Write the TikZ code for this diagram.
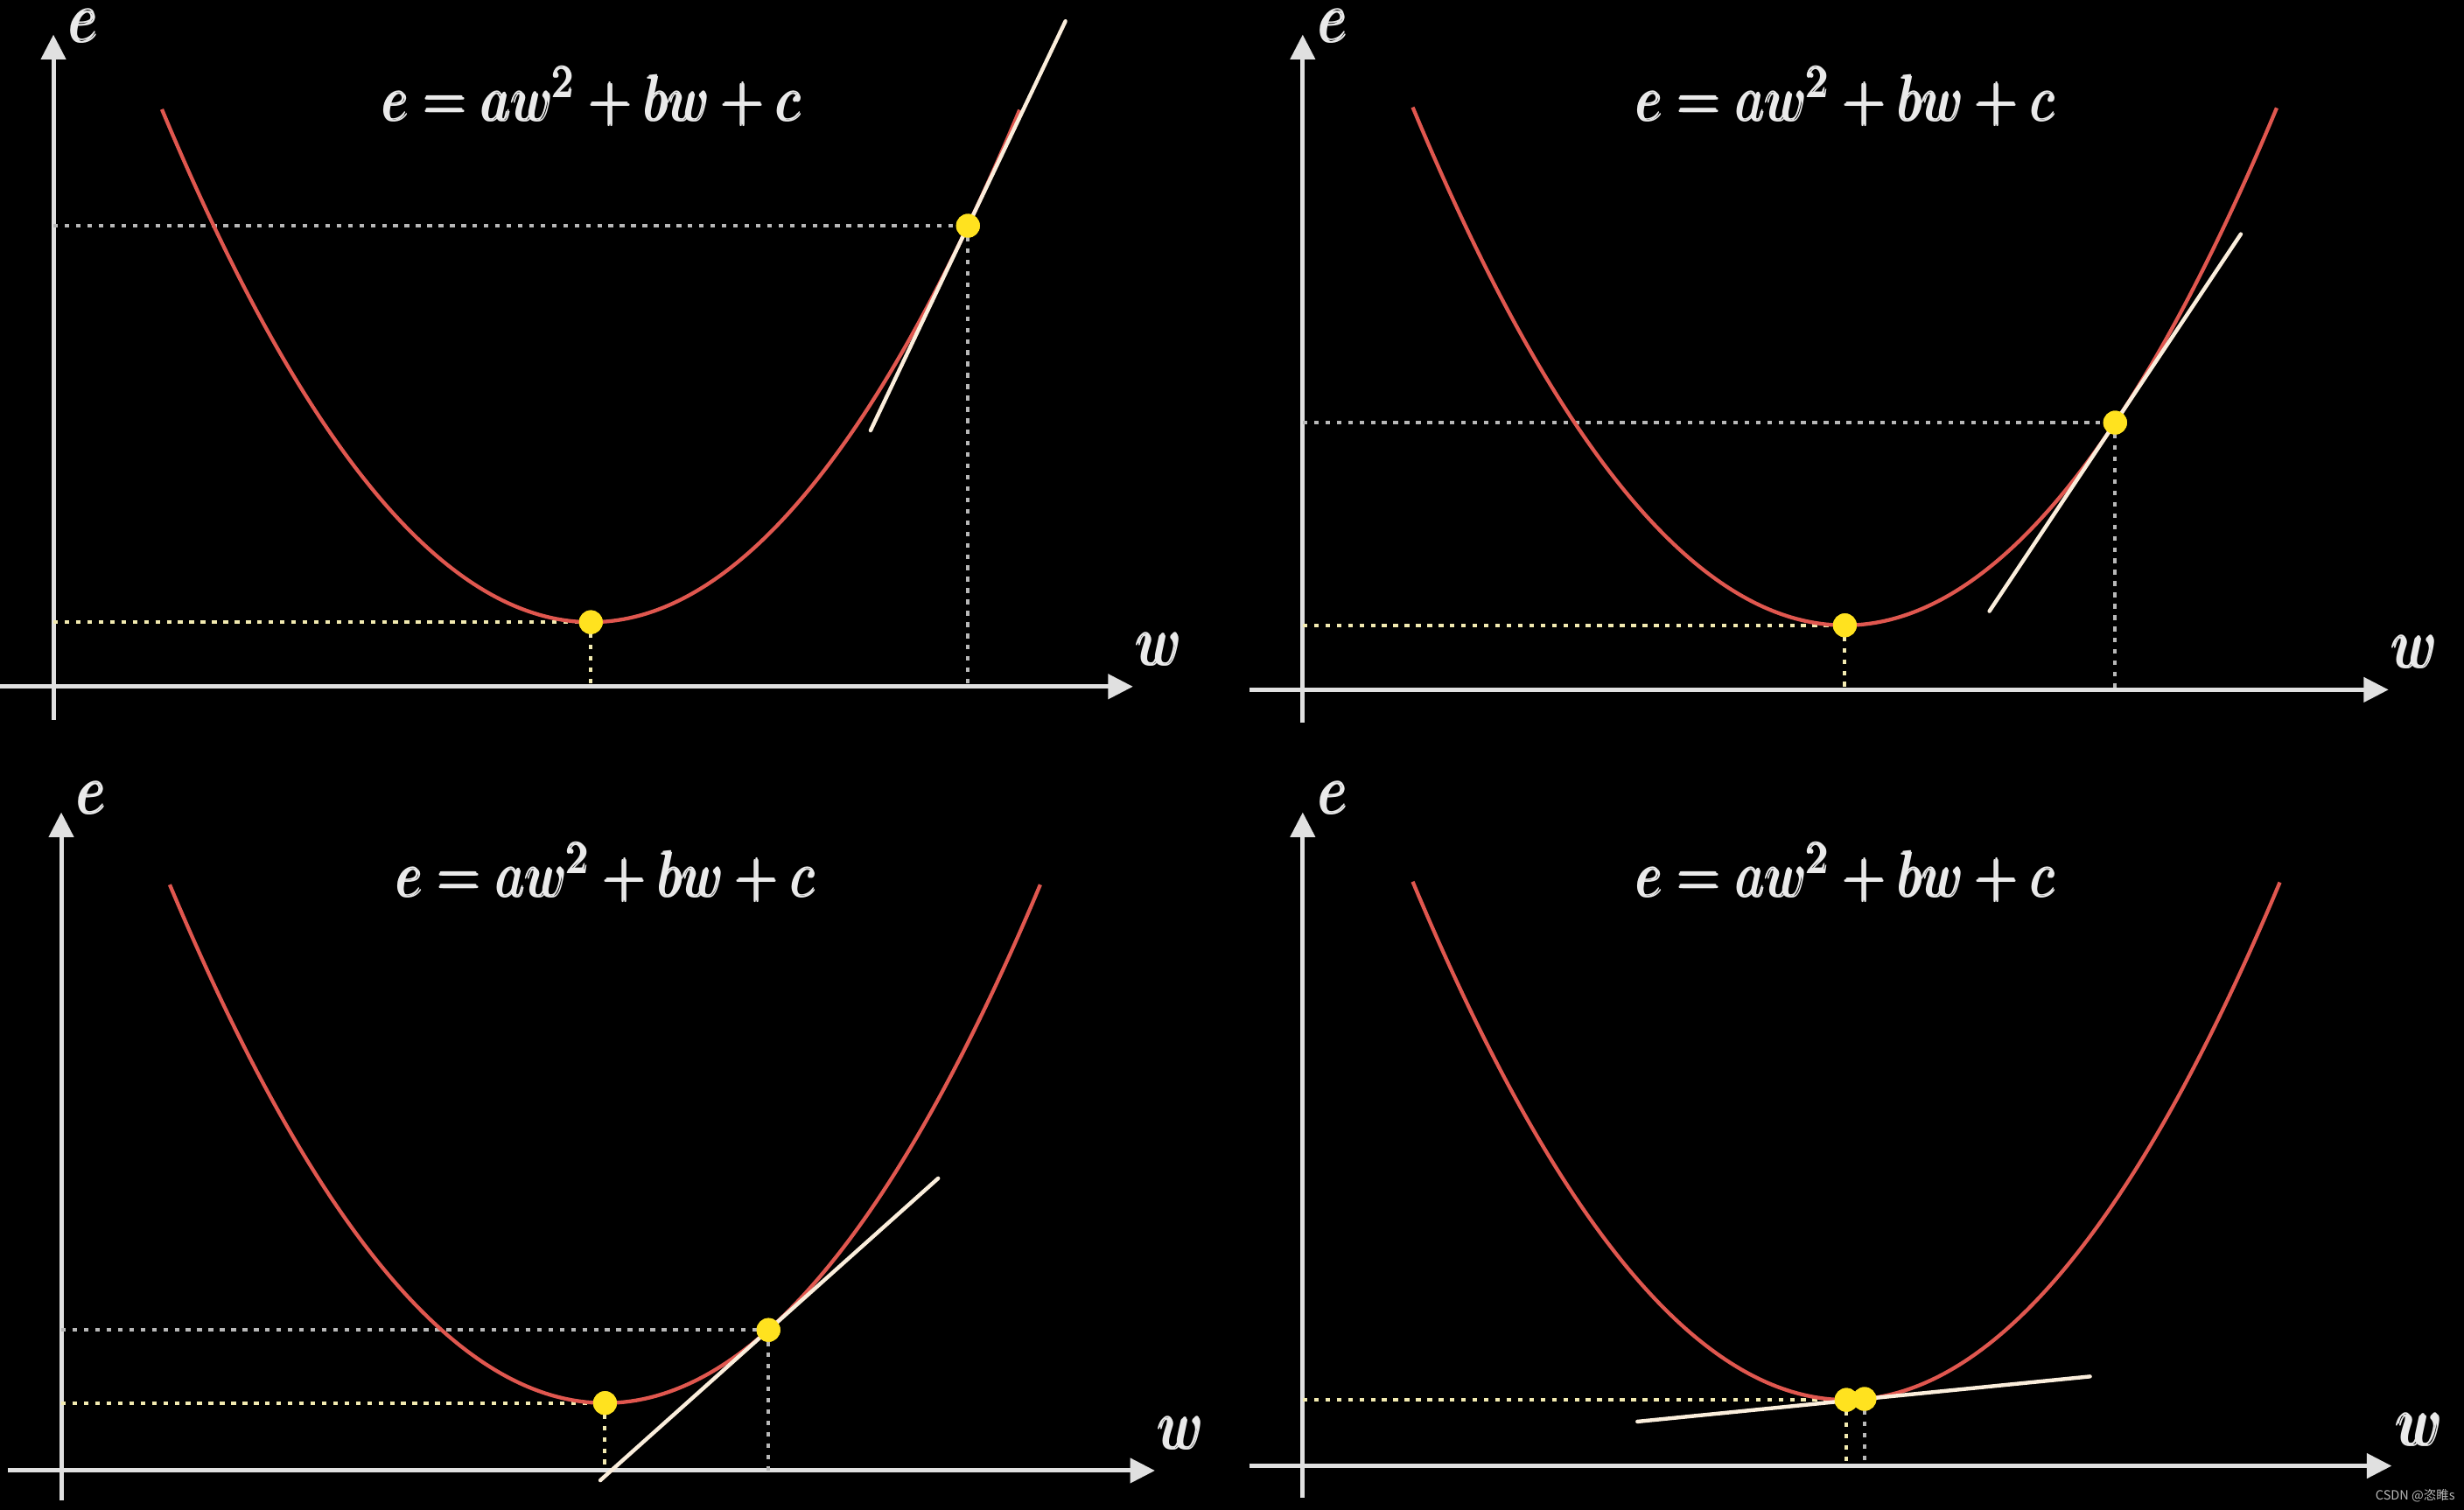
\documentclass[tikz,border=0pt]{standalone}
\usepackage{graphicx}
\usepackage{amsmath}
\usepackage{fontspec}
\newfontfamily\cjkwm{Noto Sans CJK SC}
\usetikzlibrary{arrows.meta,calc}
\definecolor{axiscol}{HTML}{E0E0E0}
\definecolor{curvecol}{HTML}{E0574F}
\definecolor{tancol}{HTML}{FBEEDC}
\definecolor{dotcol}{HTML}{FFE21F}
\definecolor{graydot}{HTML}{B8B8B8}
\definecolor{yeldot}{HTML}{F2EAB0}
\definecolor{txtcol}{HTML}{EAEAEA}
\tikzset{
  axisline/.style={draw=axiscol, line width=0.8pt, -{Triangle[length=4.5pt,width=4.4pt]}},
  parab/.style={draw=curvecol, line width=0.68pt},
  tanline/.style={draw=tancol, line width=0.7pt, line cap=round},
  ydotted/.style={draw=yeldot, line width=0.65pt, dash pattern=on 0.85pt off 1.2pt},
  gdotted/.style={draw=graydot, line width=0.58pt, dash pattern=on 0.85pt off 1.2pt},
  ptdot/.style={circle, fill=dotcol, inner sep=0pt, minimum size=4.3pt},
  lbl/.style={text=txtcol, inner sep=0pt, font=\fontsize{10.5}{12}\selectfont},
  formula/.style={text=txtcol, inner sep=0pt, anchor=base, font=\fontsize{10.2}{12}\selectfont}
}
\newcommand{\stretchy}[1]{\scalebox{1}[1.17]{#1}}
\newcommand{\eqtext}{\stretchy{$\pmb{e = aw^2 + bw + c}$}}
\begin{document}
\begin{tikzpicture}[x=0.01cm, y=-0.01cm]
\useasboundingbox (0,0) rectangle (1568,961);
\fill[black] (0,0) rectangle (1568,961);

% ================= Top-left panel =================
\coordinate (tlO) at (34,437);
\coordinate (tlYb) at (34,458);
\coordinate (tlYt) at (34,22);
\coordinate (tlXs) at (0,437);
\coordinate (tlXt) at (721,437);
\draw[axisline] (tlYb) -- (tlYt);
\draw[axisline] (tlXs) -- (tlXt);
\node[lbl] (tlE) at (54,16.5) {\stretchy{$\pmb{e}$}};
\node[lbl] (tlW) at (738,413) {\stretchy{$\pmb{w}$}};
\node[formula] (tlF) at (377,77) {\eqtext};
\node[ptdot] (tlV) at (376,396) {};
\node[ptdot] (tlP) at (616,143.7) {};
\coordinate (tlT1) at (554,274);
\coordinate (tlT2) at (678,13.5);
\draw[gdotted] (tlO |- tlP.center) -- (tlP.center);
\draw[gdotted] (tlP.center) -- (tlP.center |- tlO);
\draw[ydotted] (tlO |- tlV.center) -- (tlV.center);
\draw[ydotted] (tlV.center) -- (tlV.center |- tlO);
\draw[parab] plot[domain=-2.73:2.73, samples=120, smooth] ({376+100*\x}, {396-43.8*\x*\x});
\draw[tanline] (tlT1) -- (tlT2);
\node[ptdot] at (tlV) {};
\node[ptdot] at (tlP) {};

% ================= Top-right panel =================
\coordinate (trO) at (829,439);
\coordinate (trYb) at (829,460);
\coordinate (trYt) at (829,22);
\coordinate (trXs) at (795,439);
\coordinate (trXt) at (1520,439);
\draw[axisline] (trYb) -- (trYt);
\draw[axisline] (trXs) -- (trXt);
\node[lbl] (trE) at (849,16.5) {\stretchy{$\pmb{e}$}};
\node[lbl] (trW) at (1537,415) {\stretchy{$\pmb{w}$}};
\node[formula] (trF) at (1175,77) {\eqtext};
\node[ptdot] (trV) at (1174,398) {};
\node[ptdot] (trP) at (1346,269) {};
\coordinate (trT1) at (1266,389);
\coordinate (trT2) at (1426,149);
\draw[gdotted] (trO |- trP.center) -- (trP.center);
\draw[gdotted] (trP.center) -- (trP.center |- trO);
\draw[ydotted] (trO |- trV.center) -- (trV.center);
\draw[ydotted] (trV.center) -- (trV.center |- trO);
\draw[parab] plot[domain=-2.75:2.75, samples=120, smooth] ({1174+100*\x}, {398-43.6*\x*\x});
\draw[tanline] (trT1) -- (trT2);
\node[ptdot] at (trV) {};
\node[ptdot] at (trP) {};

% ================= Bottom-left panel =================
\coordinate (blO) at (39,936);
\coordinate (blYb) at (39,955);
\coordinate (blYt) at (39,517);
\coordinate (blXs) at (5,936);
\coordinate (blXt) at (735,936);
\draw[axisline] (blYb) -- (blYt);
\draw[axisline] (blXs) -- (blXt);
\node[lbl] (blE) at (59,508) {\stretchy{$\pmb{e}$}};
\node[lbl] (blW) at (752,912) {\stretchy{$\pmb{w}$}};
\node[formula] (blF) at (386,571) {\eqtext};
\node[ptdot] (blV) at (385,893) {};
\node[ptdot] (blP) at (489,846.5) {};
\coordinate (blT1) at (382,942.2);
\coordinate (blT2) at (597,750);
\draw[gdotted] (blO |- blP.center) -- (blP.center);
\draw[gdotted] (blP.center) -- (blP.center |- blO);
\draw[ydotted] (blO |- blV.center) -- (blV.center);
\draw[ydotted] (blV.center) -- (blV.center |- blO);
\draw[parab] plot[domain=-2.77:2.77, samples=120, smooth] ({385+100*\x}, {893-43*\x*\x});
\draw[tanline] (blT1) -- (blT2);
\node[ptdot] at (blV) {};
\node[ptdot] at (blP) {};

% ================= Bottom-right panel =================
\coordinate (brO) at (829,933);
\coordinate (brYb) at (829,953);
\coordinate (brYt) at (829,517);
\coordinate (brXs) at (795,933);
\coordinate (brXt) at (1522,933);
\draw[axisline] (brYb) -- (brYt);
\draw[axisline] (brXs) -- (brXt);
\node[lbl] (brE) at (849,508) {\stretchy{$\pmb{e}$}};
\node[lbl] (brW) at (1540,910) {\stretchy{$\pmb{w}$}};
\node[formula] (brF) at (1175,571) {\eqtext};
\node[ptdot] (brV) at (1175,891) {};
\node[ptdot] (brP) at (1186.5,890.4) {};
\coordinate (brT1) at (1042,904.8);
\coordinate (brT2) at (1330,876.1);
\draw[ydotted] (brO |- brV.center) -- (brV.center);
\draw[ydotted] (brV.center) -- (brV.center |- brO);
\draw[gdotted] (brP.center) -- (brP.center |- brO);
\draw[parab] plot[domain=-2.76:2.76, samples=120, smooth] ({1175+100*\x}, {891-43.3*\x*\x});
\draw[tanline] (brT1) -- (brT2);
\node[ptdot] at (brV) {};
\node[ptdot] at (brP) {};

% watermark
\node[text=graydot, inner sep=0pt, font=\cjkwm\fontsize{2.3}{2.7}\selectfont] (wm) at (1537,952) {CSDN @恣睢s};
\end{tikzpicture}
\end{document}
